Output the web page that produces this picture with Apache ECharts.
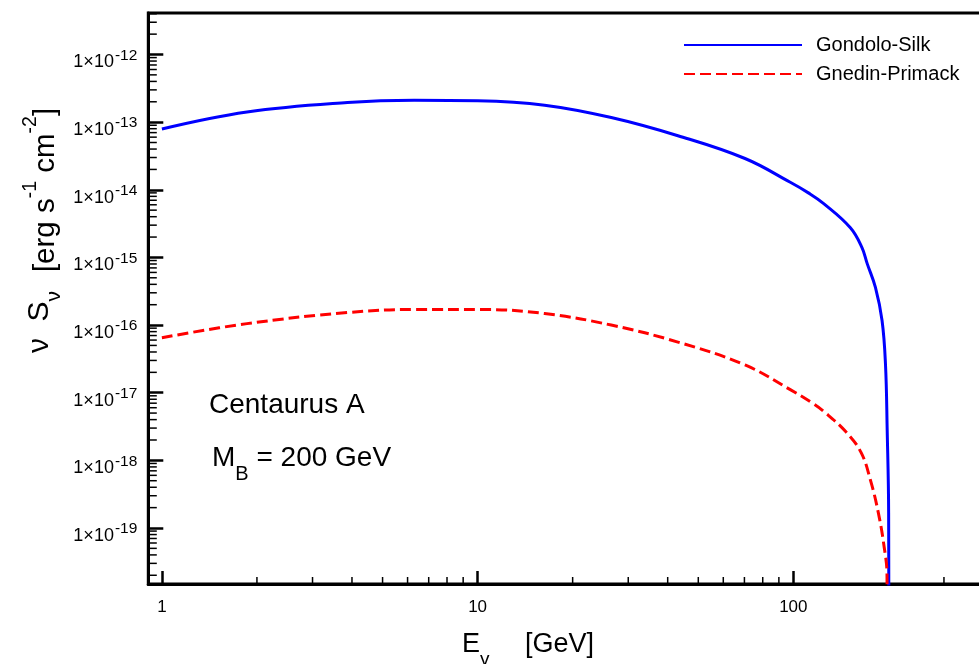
<!DOCTYPE html>
<html>
<head>
<meta charset="utf-8">
<script src="https://cdn.jsdelivr.net/npm/echarts@6/dist/echarts.min.js"></script>
<style>html,body{margin:0;padding:0;background:#fff}#c{width:979px;height:664px}</style>
</head>
<body>
<div id="c"></div>
<script>
// ---- data ----
const seriesNames = ['Gondolo-Silk', 'Gnedin-Primack'];
const energyGS = [1, 1.86, 3.87, 6.3, 10, 16.3, 26.5, 43.1, 70.3, 97.8, 111.6, 124.8, 151.6, 165, 171.4, 182, 191, 195.8, 198.3, 200.4, 200.8];
const fluxGS   = [7.9e-14, 1.41e-13, 1.95e-13, 2.11e-13, 2.07e-13, 1.78e-13, 1.17e-13, 6.3e-14, 2.9e-14, 1.29e-14, 9.0e-15, 6.25e-15, 2.75e-15, 1.4e-15, 8.1e-16, 3.6e-16, 1.17e-16, 2.7e-17, 2.8e-18, 1.66e-19, 1e-22];
const energyGP = [1, 1.86, 3.87, 6.3, 10.2, 16.3, 26.5, 43.1, 70.3, 97.8, 114, 124.8, 147, 164, 175.5, 186, 194, 198, 198.6];
const fluxGP   = [6.5e-17, 1.05e-16, 1.53e-16, 1.70e-16, 1.70e-16, 1.48e-16, 1.0e-16, 5.6e-17, 2.57e-17, 1.11e-17, 7.2e-18, 5.3e-18, 2.62e-18, 1.3e-18, 5.1e-19, 1.66e-19, 5.2e-20, 2.1e-20, 1e-22];
const xTickValues = [1, 10, 100];
const xTickLabels = ['1', '10', '100'];
const yTickExponents = [-19, -18, -17, -16, -15, -14, -13, -12];
const minorMultipliers = [2, 3, 4, 5, 6, 7, 8, 9];
const xDecades = [0, 1, 2];
const yDecades = [-20, -19, -18, -17, -16, -15, -14, -13, -12];

// axis ranges
const XMIN = 0.9056, XMAX = 500;
const YMIN = 1.486e-20, YMAX = 4.107e-12;

const FONT = '"Liberation Sans", Arial, Helvetica, sans-serif';

const yTickValues = yTickExponents.map(e => Math.pow(10, e));
const yMinor = [];
yDecades.forEach(e => minorMultipliers.forEach(k => {
  const v = k * Math.pow(10, e);
  if (v > YMIN && v < YMAX) yMinor.push([XMIN, v]);
}));
const xMinor = [];
xDecades.forEach(e => minorMultipliers.forEach(k => {
  const v = k * Math.pow(10, e);
  if (v > XMIN && v < XMAX) xMinor.push([v, YMIN]);
}));

function nearestIndex(arr, v) {
  const l = Math.log10(v);
  for (let i = 0; i < arr.length; i++) if (Math.abs(Math.log10(arr[i]) - l) < 1e-6) return i;
  return -1;
}

const chart = echarts.init(document.getElementById('c'), null, {renderer: 'canvas'});
chart.setOption({
  animation: false,
  backgroundColor: '#fff',
  grid: {left: 148.3, top: 13, width: 865.7, height: 571, outerBoundsMode: 'none', containLabel: false,
         show: true, borderColor: '#000', borderWidth: 3, backgroundColor: 'transparent'},
  legend: {
    data: seriesNames,
    orient: 'vertical',
    left: 683, top: 35, padding: 0,
    itemWidth: 118, itemHeight: 20, itemGap: 9,
    itemStyle: {opacity: 0},
    textStyle: {fontFamily: FONT, fontSize: 20, color: '#000', padding: [0, 0, 0, 9]}
  },
  xAxis: {
    type: 'log', logBase: 10, min: XMIN, max: XMAX,
    axisLine: {lineStyle: {color: '#000', width: 3}},
    axisTick: {inside: true, length: 13, customValues: xTickValues, lineStyle: {color: '#000', width: 2.5}},
    axisLabel: {
      margin: 15, fontFamily: FONT, fontSize: 17, color: '#000', customValues: xTickValues,
      formatter: v => {
        const i = nearestIndex(xTickValues, v);
        return i >= 0 ? xTickLabels[i] : '';
      }
    },
    splitLine: {show: false}, minorTick: {show: false}
  },
  yAxis: {
    type: 'log', logBase: 10, min: YMIN, max: YMAX,
    axisLine: {lineStyle: {color: '#000', width: 3}},
    axisTick: {inside: true, length: 15, customValues: yTickValues, lineStyle: {color: '#000', width: 2.5}},
    axisLabel: {
      margin: 11, color: '#000', padding: [10, 0, 0, 0], customValues: yTickValues,
      formatter: v => {
        const i = nearestIndex(yTickValues, v);
        if (i < 0) return '';
        return '{b|1×10}{p|' + yTickExponents[i] + '}';
      },
      rich: {
        b: {fontFamily: FONT, fontSize: 18, lineHeight: 24, verticalAlign: 'bottom', color: '#000'},
        p: {fontFamily: FONT, fontSize: 15.5, lineHeight: 14, verticalAlign: 'top', color: '#000', padding: [0, 0, 0, 1]}
      }
    },
    splitLine: {show: false}, minorTick: {show: false}
  },
  series: [
    {
      name: seriesNames[0], type: 'line', symbol: 'none', showSymbol: false, smooth: 0.4,
      data: energyGS.map((e, i) => [e, fluxGS[i]]),
      lineStyle: {color: '#0000ff', width: 3},
      itemStyle: {color: '#0000ff'}, clip: true, z: 3
    },
    {
      name: seriesNames[1], type: 'line', symbol: 'none', showSymbol: false, smooth: 0.4,
      data: energyGP.map((e, i) => [e, fluxGP[i]]),
      lineStyle: {color: '#ff0000', width: 3, type: [11, 5]},
      itemStyle: {color: '#ff0000'}, clip: true, z: 3
    },
    {
      type: 'custom', silent: true, data: yMinor,
      renderItem: (params, api) => {
        const p = api.coord([api.value(0), api.value(1)]);
        return {type: 'line', shape: {x1: p[0], y1: p[1], x2: p[0] + 8.5, y2: p[1]}, style: {stroke: '#000', lineWidth: 1.5}};
      }
    },
    {
      type: 'custom', silent: true, data: xMinor,
      renderItem: (params, api) => {
        const p = api.coord([api.value(0), api.value(1)]);
        return {type: 'line', shape: {x1: p[0], y1: p[1], x2: p[0], y2: p[1] - 7}, style: {stroke: '#000', lineWidth: 1.5}};
      }
    }
  ],
  graphic: [
    {
      type: 'text', x: 41, y: 190, rotation: Math.PI / 2,
      style: {
        text: '{m|[erg s}{p|-1}{m| cm}{p|-2}{m|]}',
        align: 'center', verticalAlign: 'middle',
        rich: {
          m: {fontFamily: FONT, fontSize: 29.5, lineHeight: 40, verticalAlign: 'bottom', fill: '#000'},
          p: {fontFamily: FONT, fontSize: 19.5, lineHeight: 20, verticalAlign: 'top', fill: '#000'}
        }
      }
    },
    {
      type: 'text', x: 45, y: 322, rotation: Math.PI / 2,
      style: {
        text: '{m|ν  S}{s|ν}',
        align: 'center', verticalAlign: 'middle',
        rich: {
          m: {fontFamily: FONT, fontSize: 30, lineHeight: 40, verticalAlign: 'top', fill: '#000'},
          s: {fontFamily: FONT, fontSize: 21, lineHeight: 20, verticalAlign: 'bottom', fill: '#000'}
        }
      }
    },
    {
      type: 'text', x: 462, y: 650,
      style: {
        text: '{m|E}{s|γ}',
        align: 'left', verticalAlign: 'middle',
        rich: {
          m: {fontFamily: FONT, fontSize: 27, lineHeight: 38, verticalAlign: 'top', fill: '#000'},
          s: {fontFamily: FONT, fontSize: 19, lineHeight: 20, verticalAlign: 'bottom', fill: '#000'}
        }
      }
    },
    {
      type: 'text', x: 525, y: 645,
      style: {text: '[GeV]', fontFamily: FONT, fontSize: 27, fill: '#000', align: 'left', verticalAlign: 'middle'}
    },
    {
      type: 'text', x: 209, y: 405,
      style: {text: 'Centaurus A', fontFamily: FONT, fontSize: 28, fill: '#000', align: 'left', verticalAlign: 'middle'}
    },
    {
      type: 'text', x: 212, y: 464,
      style: {
        text: '{m|M}{s|B}{m| = 200 GeV}',
        align: 'left', verticalAlign: 'middle',
        rich: {
          m: {fontFamily: FONT, fontSize: 28, lineHeight: 40, verticalAlign: 'top', fill: '#000'},
          s: {fontFamily: FONT, fontSize: 20, lineHeight: 20, verticalAlign: 'bottom', fill: '#000'}
        }
      }
    }
  ]
});
</script>
</body>
</html>
